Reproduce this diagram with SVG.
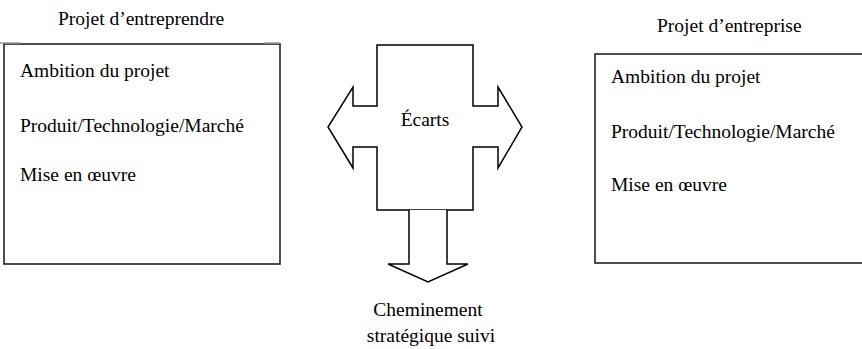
<svg xmlns="http://www.w3.org/2000/svg" width="862" height="349" viewBox="0 0 862 349">
  <style>
    .t { font-family: "Liberation Serif", "Times New Roman", serif; font-size: 19.5px; fill: #000; }
    .box { fill: #fff; stroke: #222; stroke-width: 1.6; }
    .shape { fill: #fff; stroke: #000; stroke-width: 1.5; stroke-linejoin: miter; }
    .faint { stroke: #999; stroke-width: 1.5; }
  </style>
  <rect width="862" height="349" fill="#fff"/>

  <g id="projet-entreprendre">
    <text class="t" x="58" y="25">Projet d’entreprendre</text>
    <rect class="box" x="4" y="44" width="276" height="220"/>
    <line class="faint" x1="0" y1="43" x2="20" y2="43"/>
    <line class="faint" x1="264" y1="43" x2="280" y2="43"/>
    <text class="t" x="20" y="77">Ambition du projet</text>
    <text class="t" x="20" y="132">Produit/Technologie/Marché</text>
    <text class="t" x="20" y="181">Mise en œuvre</text>
  </g>

  <g id="projet-entreprise">
    <text class="t" x="657" y="32">Projet d’entreprise</text>
    <rect class="box" x="595" y="54" width="270" height="209"/>
    <text class="t" x="611" y="83">Ambition du projet</text>
    <text class="t" x="611" y="138">Produit/Technologie/Marché</text>
    <text class="t" x="611" y="191">Mise en œuvre</text>
  </g>

  <g id="ecarts">
    <path class="shape" d="M377,45 L473,45 L473,106 L498,106 L498,87 L522,127 L498,168 L498,147 L473,147 L473,210 L377,210 L377,147 L353,147 L353,168 L328,127 L353,87 L353,106 L377,106 Z"/>
    <text class="t" x="425" y="126" text-anchor="middle">Écarts</text>
  </g>

  <g id="connectors">
    <path class="shape" d="M409,210 L409,264 L388,264 L428,282 L468,264 L447,264 L447,210"/>
  </g>

  <g id="cheminement">
    <text class="t" x="428" y="316" text-anchor="middle">Cheminement</text>
    <text class="t" x="431" y="342" text-anchor="middle">stratégique suivi</text>
  </g>
</svg>
